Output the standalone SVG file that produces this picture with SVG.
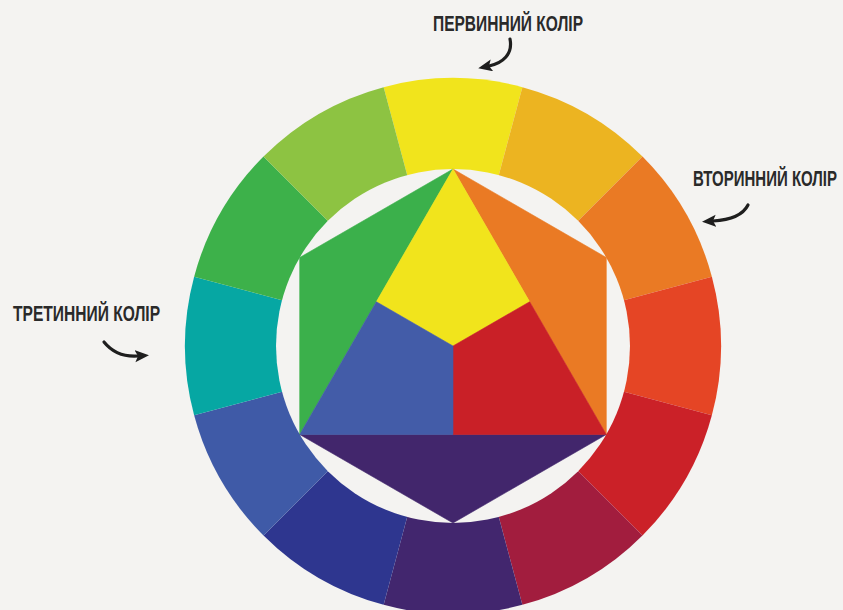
<svg xmlns="http://www.w3.org/2000/svg" width="843" height="610" viewBox="0 0 843 610">
  <defs>
    <style>
      .lbl { font-family: "Liberation Sans Narrow", "Liberation Sans", Arial, sans-serif; font-weight: bold; font-size: 21.5px; fill: #2a2a2a; }
      .arr { fill: none; stroke: #1e1e1e; stroke-width: 3.2; stroke-linecap: round; }
      .inner polygon { stroke-width: 0.6; stroke-linejoin: round; }
    </style>
    <marker id="head" markerUnits="userSpaceOnUse" markerWidth="16" markerHeight="14" refX="3" refY="6" orient="auto">
      <path d="M0,0 L14,6 L0,12 L3,6 Z" fill="#1e1e1e"/>
    </marker>
  </defs>
  <rect x="0" y="0" width="843" height="610" fill="#f4f3f1"/>

  <g id="wheel">
    <path d="M453 346 L383.64 87.13 A268 268 0 0 1 522.36 87.13 Z" fill="#f1e41c"/>
    <path d="M453 346 L522.36 87.13 A268 268 0 0 1 642.50 156.50 Z" fill="#ecb421"/>
    <path d="M453 346 L642.50 156.50 A268 268 0 0 1 711.87 276.64 Z" fill="#ea7a24"/>
    <path d="M453 346 L711.87 276.64 A268 268 0 0 1 711.87 415.36 Z" fill="#e54525"/>
    <path d="M453 346 L711.87 415.36 A268 268 0 0 1 642.50 535.50 Z" fill="#cb2128"/>
    <path d="M453 346 L642.50 535.50 A268 268 0 0 1 522.36 604.87 Z" fill="#a21d3e"/>
    <path d="M453 346 L522.36 604.87 A268 268 0 0 1 383.64 604.87 Z" fill="#42266e"/>
    <path d="M453 346 L383.64 604.87 A268 268 0 0 1 263.50 535.50 Z" fill="#2e368f"/>
    <path d="M453 346 L263.50 535.50 A268 268 0 0 1 194.13 415.36 Z" fill="#3f5aa7"/>
    <path d="M453 346 L194.13 415.36 A268 268 0 0 1 194.13 276.64 Z" fill="#06a7a3"/>
    <path d="M453 346 L194.13 276.64 A268 268 0 0 1 263.50 156.50 Z" fill="#3db14a"/>
    <path d="M453 346 L263.50 156.50 A268 268 0 0 1 383.64 87.13 Z" fill="#8dc342"/>
    <circle cx="453" cy="346" r="177" fill="#f4f3f1"/>
  </g>

  <g id="hexagon" class="inner">
    <polygon points="453,169 299.7,257.5 299.7,434.5" fill="#3bb04b" stroke="#3bb04b"/>
    <polygon points="453,169 606.3,257.5 606.3,434.5" fill="#ea7a24" stroke="#ea7a24"/>
    <polygon points="299.7,434.5 606.3,434.5 453,523" fill="#42266c" stroke="#42266c"/>
    <polygon points="453,169 529.65,301.75 453,346 376.35,301.75" fill="#f1e41c" stroke="#f1e41c"/>
    <polygon points="529.65,301.75 606.3,434.5 453,434.5 453,346" fill="#c92027" stroke="#c92027"/>
    <polygon points="376.35,301.75 453,346 453,434.5 299.7,434.5" fill="#435ca8" stroke="#435ca8"/>
  </g>

  <g id="labels">
    <text id="label-primary" class="lbl" transform="translate(433,31) scale(0.68,1)" x="0" y="0" textLength="220.6" lengthAdjust="spacingAndGlyphs">ПЕРВИННИЙ КОЛІР</text>
    <text id="label-secondary" class="lbl" transform="translate(693,186) scale(0.68,1)" x="0" y="0" textLength="211.8" lengthAdjust="spacingAndGlyphs">ВТОРИННИЙ КОЛІР</text>
    <text id="label-tertiary" class="lbl" transform="translate(13,321) scale(0.68,1)" x="0" y="0" textLength="216.2" lengthAdjust="spacingAndGlyphs">ТРЕТИННИЙ КОЛІР</text>
  </g>

  <g id="connectors">
    <path class="arr" d="M510,39 C513,54 503,63 489,66" marker-end="url(#head)"/>
    <path class="arr" d="M748,205 C743,215 730,220 713,221" marker-end="url(#head)"/>
    <path class="arr" d="M104,342 C112,352 124,357 138,356" marker-end="url(#head)"/>
  </g>
</svg>
